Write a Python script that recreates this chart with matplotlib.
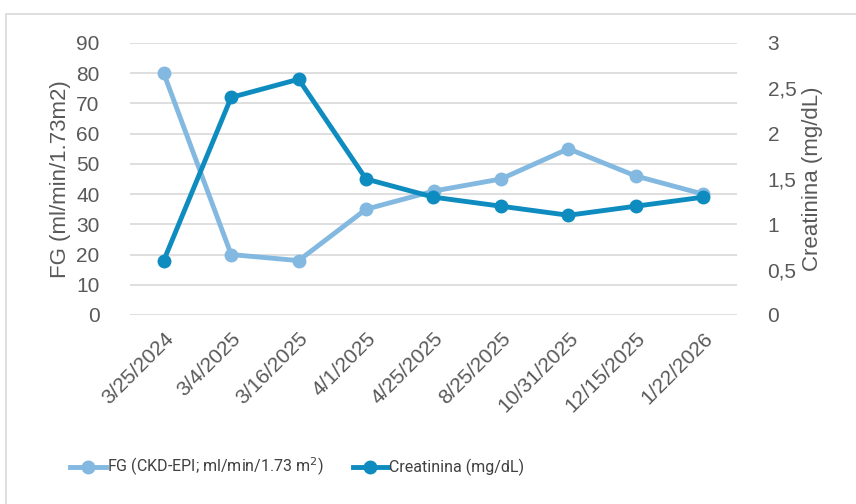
import matplotlib
matplotlib.use("Agg")
import matplotlib.pyplot as plt
from matplotlib.patches import Rectangle

fechas = ["3/25/2024", "3/4/2025", "3/16/2025", "4/1/2025", "4/25/2025",
          "8/25/2025", "10/31/2025", "12/15/2025", "1/22/2026"]
fg = [80, 20, 18, 35, 41, 45, 55, 46, 40]
creat = [0.6, 2.4, 2.6, 1.5, 1.3, 1.2, 1.1, 1.2, 1.3]
fg_ticks = [0, 10, 20, 30, 40, 50, 60, 70, 80, 90]
creat_ticks = [0, 0.5, 1, 1.5, 2, 2.5, 3]

light = "#83B9E0"
dark = "#0E8CBF"
gray = "#595959"

plt.rcParams['font.family'] = ['Liberation Sans', 'DejaVu Sans']

fig = plt.figure(figsize=(8.56, 5.04), dpi=100)
# chart border (runs off the right and bottom edges like the original)
fig.patches.append(Rectangle((6 / 856, -0.1), 1.2, 1 - 14 / 504 + 0.1,
                             transform=fig.transFigure, fill=False,
                             edgecolor="#D9D9D9", linewidth=1.2))

ax = fig.add_axes([130 / 856, 1 - 315 / 504, 607 / 856, 272 / 504])
ax2 = ax.twinx()

x = list(range(len(fechas)))
l1, = ax.plot(x, fg, color=light, lw=3.5, marker="o", ms=9,
              label="FG (CKD-EPI; ml/min/1.73 m$^2$)", zorder=3)
l2, = ax2.plot(x, creat, color=dark, lw=3.5, marker="o", ms=9,
               label="Creatinina (mg/dL)", zorder=3)

ax.set_xlim(-0.5, len(fechas) - 0.5)
ax.set_ylim(0, 90)
ax2.set_ylim(0, 3)
ax.set_yticks(fg_ticks)
ax2.set_yticks(creat_ticks)
ax2.set_yticklabels([("%g" % v).replace(".", ",") for v in creat_ticks])
ax.set_xticks(x)
ax.set_xticklabels(fechas, rotation=45, ha="right", rotation_mode="anchor")

ax.grid(axis="y", color="#D9D9D9", lw=1.2)
ax.set_axisbelow(True)
for a in (ax, ax2):
    for s in a.spines.values():
        s.set_visible(False)
    a.tick_params(length=0, colors=gray, labelsize=15)
ax.tick_params(axis="y", pad=22)
ax.tick_params(axis="x", pad=10)
ax2.tick_params(axis="y", pad=22)

ax.set_ylabel("FG (ml/min/1.73m2)", color=gray, fontsize=16, labelpad=4)
ax2.set_ylabel("Creatinina (mg/dL)", color=gray, fontsize=16, labelpad=4)

fig.legend([l1, l2], [l1.get_label(), l2.get_label()], loc="center left",
           bbox_to_anchor=(56 / 856, 1 - 467 / 504), ncol=2, frameon=False,
           prop={"family": ["Roboto", "DejaVu Sans"], "size": 11.5},
           labelcolor="#404040", handlelength=2.2, handletextpad=0.1,
           columnspacing=1.8)

fig.savefig("out.png", dpi=100)
